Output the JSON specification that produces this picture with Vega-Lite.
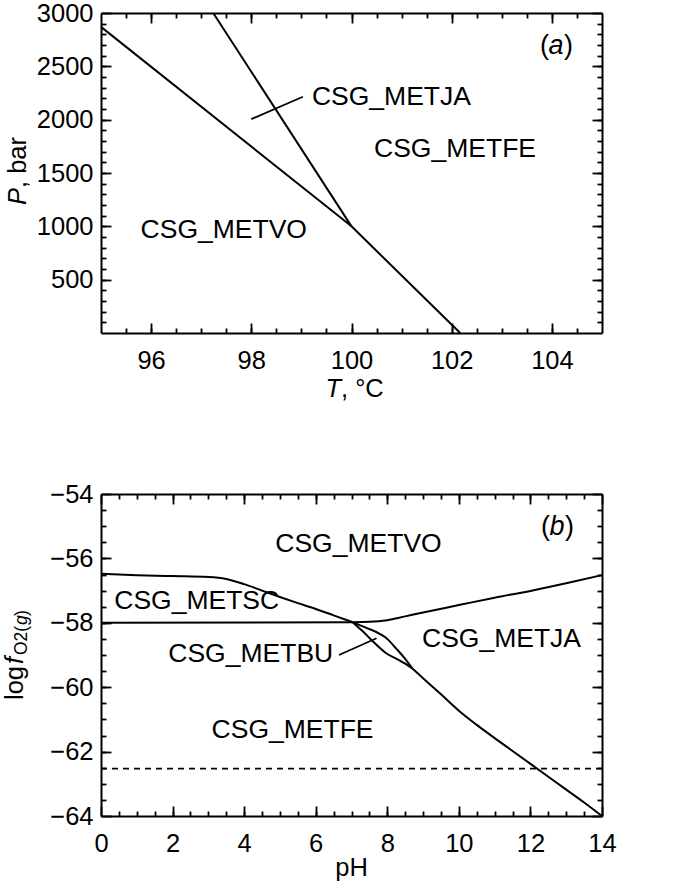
{
  "$schema": "https://vega.github.io/schema/vega-lite/v6.json",
  "padding": {"left": 2, "top": 1, "right": 5, "bottom": 0},
  "spacing": 79,
  "config": {
    "view": {"stroke": null},
    "font": "Liberation Sans",
    "text": {"color": "black", "font": "Liberation Sans"},
    "axis": {"labelFont": "Liberation Sans", "labelFontSize": 25.5, "labelColor": "black", "tickColor": "black", "domainColor": "black", "tickWidth": 1.8, "domainWidth": 2, "grid": false, "labelOverlap": false}
  },
  "datasets": {
    "a_lines": [
      {"seg": "VO_JA", "T": 95, "P": 2870}, {"seg": "VO_JA", "T": 100, "P": 1000},
      {"seg": "VO_FE", "T": 100, "P": 1000}, {"seg": "VO_FE", "T": 102.17, "P": 0},
      {"seg": "JA_FE", "T": 97.24, "P": 3000}, {"seg": "JA_FE", "T": 100, "P": 1000}
    ],
    "a_leader": [{"T": 98.0, "P": 2005}, {"T": 99.03, "P": 2215}],
    "a_labels": [
      {"T": 99.21, "P": 2215, "label": "CSG_METJA"},
      {"T": 100.45, "P": 1727, "label": "CSG_METFE"},
      {"T": 95.79, "P": 969, "label": "CSG_METVO"}
    ],
    "a_letter": [{"T": 104.08, "P": 2692}],
    "a_titles": [
      {"item": "x", "T": 99.79, "P": -525},
      {"item": "y", "T": 93.35, "P": 1359}
    ],
    "b_lines": [
      {"seg": "VO_SC", "pH": 0, "lf": -56.48}, {"seg": "VO_SC", "pH": 1, "lf": -56.52}, {"seg": "VO_SC", "pH": 2, "lf": -56.55},
      {"seg": "VO_SC", "pH": 3, "lf": -56.58}, {"seg": "VO_SC", "pH": 3.5, "lf": -56.64}, {"seg": "VO_SC", "pH": 4, "lf": -56.8},
      {"seg": "VO_SC", "pH": 4.5, "lf": -57.0}, {"seg": "VO_SC", "pH": 5, "lf": -57.2}, {"seg": "VO_SC", "pH": 5.5, "lf": -57.39},
      {"seg": "VO_SC", "pH": 6, "lf": -57.57}, {"seg": "VO_SC", "pH": 6.5, "lf": -57.77}, {"seg": "VO_SC", "pH": 7.03, "lf": -57.98},
      {"seg": "SC_FE", "pH": 0, "lf": -58.0}, {"seg": "SC_FE", "pH": 7.03, "lf": -57.98},
      {"seg": "VO_JA", "pH": 7.03, "lf": -57.98}, {"seg": "VO_JA", "pH": 7.5, "lf": -57.97}, {"seg": "VO_JA", "pH": 8, "lf": -57.92},
      {"seg": "VO_JA", "pH": 8.5, "lf": -57.8}, {"seg": "VO_JA", "pH": 9, "lf": -57.68}, {"seg": "VO_JA", "pH": 10, "lf": -57.45},
      {"seg": "VO_JA", "pH": 11, "lf": -57.22}, {"seg": "VO_JA", "pH": 12, "lf": -57.01}, {"seg": "VO_JA", "pH": 13, "lf": -56.77},
      {"seg": "VO_JA", "pH": 14, "lf": -56.52},
      {"seg": "BU_JA", "pH": 7.03, "lf": -57.98}, {"seg": "BU_JA", "pH": 7.4, "lf": -58.15}, {"seg": "BU_JA", "pH": 7.8, "lf": -58.35},
      {"seg": "BU_JA", "pH": 8.0, "lf": -58.5}, {"seg": "BU_JA", "pH": 8.25, "lf": -58.8}, {"seg": "BU_JA", "pH": 8.5, "lf": -59.12},
      {"seg": "BU_JA", "pH": 8.7, "lf": -59.42},
      {"seg": "BU_FE", "pH": 7.03, "lf": -57.98}, {"seg": "BU_FE", "pH": 7.3, "lf": -58.25}, {"seg": "BU_FE", "pH": 7.6, "lf": -58.58},
      {"seg": "BU_FE", "pH": 8.0, "lf": -58.97}, {"seg": "BU_FE", "pH": 8.3, "lf": -59.14}, {"seg": "BU_FE", "pH": 8.5, "lf": -59.27},
      {"seg": "BU_FE", "pH": 8.7, "lf": -59.42},
      {"seg": "FE_JA", "pH": 8.7, "lf": -59.42}, {"seg": "FE_JA", "pH": 9, "lf": -59.72}, {"seg": "FE_JA", "pH": 9.5, "lf": -60.22},
      {"seg": "FE_JA", "pH": 10, "lf": -60.73}, {"seg": "FE_JA", "pH": 10.5, "lf": -61.17}, {"seg": "FE_JA", "pH": 11, "lf": -61.58},
      {"seg": "FE_JA", "pH": 11.5, "lf": -61.98}, {"seg": "FE_JA", "pH": 12, "lf": -62.38}, {"seg": "FE_JA", "pH": 12.5, "lf": -62.78},
      {"seg": "FE_JA", "pH": 13, "lf": -63.18}, {"seg": "FE_JA", "pH": 13.5, "lf": -63.58}, {"seg": "FE_JA", "pH": 14, "lf": -64.0}
    ],
    "b_dash": [{"pH": 0, "lf": -62.53}, {"pH": 14, "lf": -62.53}],
    "b_leader": [{"pH": 6.65, "lf": -59.0}, {"pH": 7.7, "lf": -58.48}],
    "b_labels": [
      {"pH": 4.87, "lf": -55.55, "label": "CSG_METVO"},
      {"pH": 0.37, "lf": -57.31, "label": "CSG_METSC"},
      {"pH": 1.88, "lf": -58.97, "label": "CSG_METBU"},
      {"pH": 8.97, "lf": -58.51, "label": "CSG_METJA"},
      {"pH": 3.09, "lf": -61.33, "label": "CSG_METFE"}
    ],
    "b_letter": [{"pH": 12.74, "lf": -55.04}],
    "b_titles": [
      {"item": "pH", "pH": 7, "lf": -65.6},
      {"item": "log", "pH": -2.41, "lf": -59.34},
      {"item": "f", "pH": -2.41, "lf": -59.28},
      {"item": "s1", "pH": -2.21, "lf": -59.0},
      {"item": "s2", "pH": -2.21, "lf": -58.07},
      {"item": "s3", "pH": -2.21, "lf": -57.79}
    ]
  },
  "vconcat": [
    {
      "width": 501,
      "height": 320,
      "resolve": {"axis": {"x": "independent", "y": "independent"}},
      "layer": [
        {
          "data": {"name": "a_lines"},
          "mark": {"type": "line", "color": "black", "strokeWidth": 2},
          "encoding": {
            "x": {"field": "T", "type": "quantitative", "scale": {"domain": [95, 105], "nice": false, "zero": false},
                  "axis": {"orient": "bottom", "values": [96, 98, 100, 102, 104], "format": "d", "tickSize": -10, "labelPadding": 25, "title": null}},
            "y": {"field": "P", "type": "quantitative", "scale": {"domain": [0, 3000], "nice": false, "zero": false},
                  "axis": {"orient": "left", "values": [500, 1000, 1500, 2000, 2500, 3000], "format": "d", "tickSize": -10, "labelPadding": 18, "title": null}},
            "detail": {"field": "seg"}
          }
        },
        {
          "data": {"name": "a_leader"},
          "mark": {"type": "line", "color": "black", "strokeWidth": 1.8},
          "encoding": {
            "x": {"field": "T", "type": "quantitative",
                  "axis": {"orient": "bottom", "values": [95.5, 96, 96.5, 97, 97.5, 98, 98.5, 99, 99.5, 100, 100.5, 101, 101.5, 102, 102.5, 103, 103.5, 104, 104.5], "tickSize": -5, "labels": false, "domain": false, "title": null}},
            "y": {"field": "P", "type": "quantitative",
                  "axis": {"orient": "left", "values": [100, 200, 300, 400, 500, 600, 700, 800, 900, 1000, 1100, 1200, 1300, 1400, 1500, 1600, 1700, 1800, 1900, 2000, 2100, 2200, 2300, 2400, 2500, 2600, 2700, 2800, 2900], "tickSize": -5, "labels": false, "domain": false, "title": null}}
          }
        },
        {
          "data": {"name": "a_labels"},
          "mark": {"type": "text", "fontSize": 26.5, "align": "left", "baseline": "middle", "color": "black"},
          "encoding": {
            "x": {"field": "T", "type": "quantitative",
                  "axis": {"orient": "top", "values": [96, 98, 100, 102, 104], "tickSize": -10, "labels": false, "title": null}},
            "y": {"field": "P", "type": "quantitative",
                  "axis": {"orient": "right", "values": [500, 1000, 1500, 2000, 2500, 3000], "tickSize": -10, "labels": false, "title": null}},
            "text": {"field": "label"}
          }
        },
        {
          "data": {"name": "a_letter"},
          "mark": {"type": "text", "text": "a", "fontSize": 27, "fontStyle": "italic", "align": "center", "baseline": "middle", "color": "black"},
          "encoding": {
            "x": {"field": "T", "type": "quantitative",
                  "axis": {"orient": "top", "values": [95.5, 96, 96.5, 97, 97.5, 98, 98.5, 99, 99.5, 100, 100.5, 101, 101.5, 102, 102.5, 103, 103.5, 104, 104.5], "tickSize": -5, "labels": false, "domain": false, "title": null}},
            "y": {"field": "P", "type": "quantitative",
                  "axis": {"orient": "right", "values": [100, 200, 300, 400, 500, 600, 700, 800, 900, 1000, 1100, 1200, 1300, 1400, 1500, 1600, 1700, 1800, 1900, 2000, 2100, 2200, 2300, 2400, 2500, 2600, 2700, 2800, 2900], "tickSize": -5, "labels": false, "domain": false, "title": null}}
          }
        },
        {
          "data": {"name": "a_letter"},
          "mark": {"type": "text", "text": "(", "fontSize": 27, "align": "right", "baseline": "middle", "dx": -7, "color": "black"},
          "encoding": {"x": {"field": "T", "type": "quantitative", "axis": null}, "y": {"field": "P", "type": "quantitative", "axis": null}}
        },
        {
          "data": {"name": "a_letter"},
          "mark": {"type": "text", "text": ")", "fontSize": 27, "align": "left", "baseline": "middle", "dx": 8, "color": "black"},
          "encoding": {"x": {"field": "T", "type": "quantitative", "axis": null}, "y": {"field": "P", "type": "quantitative", "axis": null}}
        },
        {
          "data": {"name": "a_titles"},
          "transform": [{"filter": {"field": "item", "equal": "x"}}],
          "mark": {"type": "text", "text": "T", "fontSize": 25.5, "fontStyle": "italic", "align": "right", "baseline": "middle", "color": "black"},
          "encoding": {"x": {"field": "T", "type": "quantitative", "axis": null}, "y": {"field": "P", "type": "quantitative", "axis": null}}
        },
        {
          "data": {"name": "a_titles"},
          "transform": [{"filter": {"field": "item", "equal": "x"}}],
          "mark": {"type": "text", "text": ", °C", "fontSize": 25.5, "align": "left", "baseline": "middle", "color": "black"},
          "encoding": {"x": {"field": "T", "type": "quantitative", "axis": null}, "y": {"field": "P", "type": "quantitative", "axis": null}}
        },
        {
          "data": {"name": "a_titles"},
          "transform": [{"filter": {"field": "item", "equal": "y"}}],
          "mark": {"type": "text", "text": "P", "fontSize": 25.5, "fontStyle": "italic", "angle": 270, "align": "right", "baseline": "middle", "color": "black"},
          "encoding": {"x": {"field": "T", "type": "quantitative", "axis": null}, "y": {"field": "P", "type": "quantitative", "axis": null}}
        },
        {
          "data": {"name": "a_titles"},
          "transform": [{"filter": {"field": "item", "equal": "y"}}],
          "mark": {"type": "text", "text": ", bar", "fontSize": 25.5, "angle": 270, "align": "left", "baseline": "middle", "color": "black"},
          "encoding": {"x": {"field": "T", "type": "quantitative", "axis": null}, "y": {"field": "P", "type": "quantitative", "axis": null}}
        }
      ]
    },
    {
      "width": 501,
      "height": 322,
      "resolve": {"axis": {"x": "independent", "y": "independent"}},
      "layer": [
        {
          "data": {"name": "b_lines"},
          "mark": {"type": "line", "color": "black", "strokeWidth": 2, "interpolate": "monotone"},
          "encoding": {
            "x": {"field": "pH", "type": "quantitative", "scale": {"domain": [0, 14], "nice": false, "zero": false},
                  "axis": {"orient": "bottom", "values": [0, 2, 4, 6, 8, 10, 12, 14], "tickSize": -10, "labelPadding": 25, "labelFlush": false, "title": null}},
            "y": {"field": "lf", "type": "quantitative", "scale": {"domain": [-64, -54], "nice": false, "zero": false},
                  "axis": {"orient": "left", "values": [-64, -62, -60, -58, -56, -54], "tickSize": -10, "labelPadding": 18, "title": null}},
            "detail": {"field": "seg"}
          }
        },
        {
          "data": {"name": "b_dash"},
          "mark": {"type": "line", "color": "black", "strokeWidth": 1.8, "strokeDash": [6, 5]},
          "encoding": {
            "x": {"field": "pH", "type": "quantitative",
                  "axis": {"orient": "bottom", "values": [0.5, 1, 1.5, 2, 2.5, 3, 3.5, 4, 4.5, 5, 5.5, 6, 6.5, 7, 7.5, 8, 8.5, 9, 9.5, 10, 10.5, 11, 11.5, 12, 12.5, 13, 13.5], "tickSize": -5, "labels": false, "domain": false, "title": null}},
            "y": {"field": "lf", "type": "quantitative",
                  "axis": {"orient": "left", "values": [-63.5, -63, -62.5, -62, -61.5, -61, -60.5, -60, -59.5, -59, -58.5, -58, -57.5, -57, -56.5, -56, -55.5, -55, -54.5], "tickSize": -5, "labels": false, "domain": false, "title": null}}
          }
        },
        {
          "data": {"name": "b_labels"},
          "mark": {"type": "text", "fontSize": 26.5, "align": "left", "baseline": "middle", "color": "black"},
          "encoding": {
            "x": {"field": "pH", "type": "quantitative",
                  "axis": {"orient": "top", "values": [0, 2, 4, 6, 8, 10, 12, 14], "tickSize": -10, "labels": false, "title": null}},
            "y": {"field": "lf", "type": "quantitative",
                  "axis": {"orient": "right", "values": [-64, -62, -60, -58, -56, -54], "tickSize": -10, "labels": false, "title": null}},
            "text": {"field": "label"}
          }
        },
        {
          "data": {"name": "b_letter"},
          "mark": {"type": "text", "text": "b", "fontSize": 27, "fontStyle": "italic", "align": "center", "baseline": "middle", "color": "black"},
          "encoding": {
            "x": {"field": "pH", "type": "quantitative",
                  "axis": {"orient": "top", "values": [0.5, 1, 1.5, 2, 2.5, 3, 3.5, 4, 4.5, 5, 5.5, 6, 6.5, 7, 7.5, 8, 8.5, 9, 9.5, 10, 10.5, 11, 11.5, 12, 12.5, 13, 13.5], "tickSize": -5, "labels": false, "domain": false, "title": null}},
            "y": {"field": "lf", "type": "quantitative",
                  "axis": {"orient": "right", "values": [-63.5, -63, -62.5, -62, -61.5, -61, -60.5, -60, -59.5, -59, -58.5, -58, -57.5, -57, -56.5, -56, -55.5, -55, -54.5], "tickSize": -5, "labels": false, "domain": false, "title": null}}
          }
        },
        {
          "data": {"name": "b_leader"},
          "mark": {"type": "line", "color": "black", "strokeWidth": 1.8},
          "encoding": {"x": {"field": "pH", "type": "quantitative", "axis": null}, "y": {"field": "lf", "type": "quantitative", "axis": null}}
        },
        {
          "data": {"name": "b_letter"},
          "mark": {"type": "text", "text": "(", "fontSize": 27, "align": "right", "baseline": "middle", "dx": -7, "color": "black"},
          "encoding": {"x": {"field": "pH", "type": "quantitative", "axis": null}, "y": {"field": "lf", "type": "quantitative", "axis": null}}
        },
        {
          "data": {"name": "b_letter"},
          "mark": {"type": "text", "text": ")", "fontSize": 27, "align": "left", "baseline": "middle", "dx": 8, "color": "black"},
          "encoding": {"x": {"field": "pH", "type": "quantitative", "axis": null}, "y": {"field": "lf", "type": "quantitative", "axis": null}}
        },
        {
          "data": {"name": "b_titles"},
          "transform": [{"filter": {"field": "item", "equal": "pH"}}],
          "mark": {"type": "text", "text": "pH", "fontSize": 25.5, "align": "center", "baseline": "middle", "color": "black"},
          "encoding": {"x": {"field": "pH", "type": "quantitative", "axis": null}, "y": {"field": "lf", "type": "quantitative", "axis": null}}
        },
        {
          "data": {"name": "b_titles"},
          "transform": [{"filter": {"field": "item", "equal": "log"}}],
          "mark": {"type": "text", "text": "log", "fontSize": 25.5, "angle": 270, "align": "right", "baseline": "middle", "color": "black"},
          "encoding": {"x": {"field": "pH", "type": "quantitative", "axis": null}, "y": {"field": "lf", "type": "quantitative", "axis": null}}
        },
        {
          "data": {"name": "b_titles"},
          "transform": [{"filter": {"field": "item", "equal": "f"}}],
          "mark": {"type": "text", "text": "f", "fontSize": 25.5, "fontStyle": "italic", "angle": 270, "align": "left", "baseline": "middle", "color": "black"},
          "encoding": {"x": {"field": "pH", "type": "quantitative", "axis": null}, "y": {"field": "lf", "type": "quantitative", "axis": null}}
        },
        {
          "data": {"name": "b_titles"},
          "transform": [{"filter": {"field": "item", "equal": "s1"}}],
          "mark": {"type": "text", "text": "O2(", "fontSize": 17.5, "angle": 270, "align": "left", "baseline": "middle", "color": "black"},
          "encoding": {"x": {"field": "pH", "type": "quantitative", "axis": null}, "y": {"field": "lf", "type": "quantitative", "axis": null}}
        },
        {
          "data": {"name": "b_titles"},
          "transform": [{"filter": {"field": "item", "equal": "s2"}}],
          "mark": {"type": "text", "text": "g", "fontSize": 17.5, "fontStyle": "italic", "angle": 270, "align": "left", "baseline": "middle", "color": "black"},
          "encoding": {"x": {"field": "pH", "type": "quantitative", "axis": null}, "y": {"field": "lf", "type": "quantitative", "axis": null}}
        },
        {
          "data": {"name": "b_titles"},
          "transform": [{"filter": {"field": "item", "equal": "s3"}}],
          "mark": {"type": "text", "text": ")", "fontSize": 17.5, "angle": 270, "align": "left", "baseline": "middle", "color": "black"},
          "encoding": {"x": {"field": "pH", "type": "quantitative", "axis": null}, "y": {"field": "lf", "type": "quantitative", "axis": null}}
        }
      ]
    }
  ]
}
